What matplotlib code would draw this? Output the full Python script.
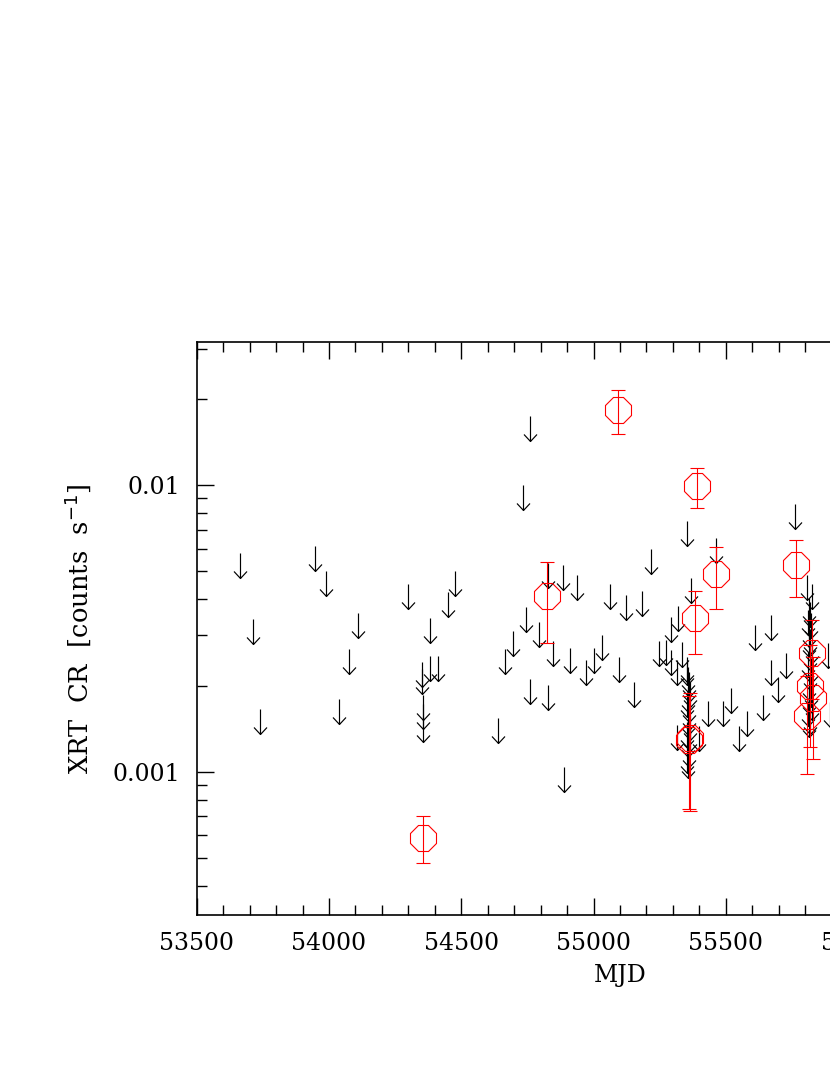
import numpy as np
import matplotlib
matplotlib.use("Agg")
import matplotlib.pyplot as plt
from matplotlib.path import Path
from matplotlib.ticker import FixedLocator, MultipleLocator, NullFormatter

# ---------------- data ----------------
# Swift/XRT upper limits (MJD, count rate)
ul_mjd = [53665, 53713, 53741, 53948, 53990, 54037, 54077, 54111, 54300,
          54352, 54352, 54354, 54354, 54354, 54381, 54382, 54413, 54451,
          54478, 54637, 54667, 54694, 54732, 54744, 54758, 54761, 54794,
          54829, 54828, 54848, 54883, 54889, 54911, 54938, 54973, 55001,
          55032, 55063, 55098, 55121, 55154, 55184, 55218, 55246, 55273,
          55292, 55291, 55318, 55335, 55315, 55355, 55369, 55462, 55434,
          55489, 55520, 55549, 55581, 55611, 55639, 55670, 55670, 55698,
          55729, 55761, 55808, 55825, 55887, 55895]
ul_val = [0.00578, 0.00341, 0.00166, 0.00614, 0.00501, 0.00179, 0.00269, 0.00359, 0.00453,
          0.00242, 0.00229, 0.00185, 0.00172, 0.00155, 0.00344, 0.00253, 0.00253, 0.00425,
          0.00503, 0.00154, 0.00269, 0.00310, 0.0100, 0.00375, 0.0174, 0.00211, 0.00333,
          0.00535, 0.00201, 0.00285, 0.00526, 0.00104, 0.00270, 0.00485, 0.00246, 0.00270,
          0.00300, 0.00451, 0.00252, 0.00413, 0.00206, 0.00429, 0.00598, 0.00287, 0.00288,
          0.00347, 0.00266, 0.00380, 0.00284, 0.00245, 0.00751, 0.00475, 0.00656, 0.00176,
          0.00176, 0.00196, 0.00145, 0.00163, 0.00326, 0.00186, 0.00353, 0.00245, 0.00215,
          0.00259, 0.00859, 0.00488, 0.00454, 0.00281, 0.00175]

# dense cluster around MJD 55360
ulA_mjd = [55352, 55355, 55358, 55360, 55362, 55365, 55357, 55354, 55361, 55359,
           55356, 55363, 55353, 55366, 55358, 55360, 55355, 55357, 55400, 55316]
ulA_val = [0.00252, 0.00245, 0.00232, 0.00223, 0.00214, 0.00206, 0.00198, 0.00190, 0.00183, 0.00171,
           0.00164, 0.00158, 0.00149, 0.00144, 0.00138, 0.00127, 0.00121, 0.00116, 0.00144, 0.00146]

# dense cluster around MJD 55818
ulB_mjd = [55815, 55818, 55812, 55822, 55816, 55820, 55813, 55825, 55817, 55811,
           55823, 55819, 55814, 55821, 55816, 55824, 55812, 55818, 55815]
ulB_val = [0.00403, 0.00392, 0.00366, 0.00357, 0.00334, 0.00316, 0.00308, 0.00292, 0.00277, 0.00262,
           0.00249, 0.00236, 0.00217, 0.00206, 0.00195, 0.00185, 0.00176, 0.00166, 0.00162]

# detections
det_mjd = [54354, 54823, 55092, 55390, 55462, 55765, 55384, 55359, 55365,
           55825, 55819, 55831, 55806]
det_val = [0.000589, 0.00411, 0.01827, 0.00992, 0.00489, 0.00526, 0.00343, 0.00129, 0.00131,
           0.00259, 0.00199, 0.00181, 0.00157]
det_err = [0.00011, 0.00129, 0.0032, 0.0016, 0.0012, 0.0012, 0.00085, 0.00055, 0.00058,
           0.00079, 0.00077, 0.0007, 0.00059]

x_major = [53500, 54000, 54500, 55000, 55500, 56000, 56500]
y_major = [0.001, 0.01]
y_major_labels = ["0.001", "0.01"]

# ---------------- plot ----------------
W, H = 830, 1075
fig = plt.figure(figsize=(W / 100, H / 100), dpi=100)
ax = fig.add_axes([196.7 / W, (H - 915) / H, (1043.3 - 196.7) / W, (915 - 342) / H])

ax.set_yscale("log")
ax.set_xlim(53500, 56700)
ax.set_ylim(10 ** -3.5, 10 ** -1.5)

# down-arrow marker: origin at the top (the limit value)
verts = [(0, 0), (0, -1), (-0.26, -0.72), (0, -1), (0.26, -0.72)]
codes = [Path.MOVETO, Path.LINETO, Path.MOVETO, Path.LINETO, Path.LINETO]
arrow = Path(verts, codes)

all_ul_x = ul_mjd + ulA_mjd + ulB_mjd
all_ul_y = ul_val + ulA_val + ulB_val
ax.plot(all_ul_x, all_ul_y, linestyle="none", marker=arrow, markersize=36,
        markerfacecolor="none", markeredgecolor="black", markeredgewidth=0.85)

ax.errorbar(det_mjd, det_val, yerr=det_err, fmt="8", markersize=19.5,
            markerfacecolor="none", markeredgecolor="red", markeredgewidth=0.8,
            ecolor="red", elinewidth=0.8, capsize=4.8, capthick=0.8)

font = "DejaVu Serif"
ax.xaxis.set_major_locator(FixedLocator(x_major))
ax.xaxis.set_minor_locator(MultipleLocator(100))
ax.set_xticklabels([str(v) for v in x_major])
ax.yaxis.set_major_locator(FixedLocator(y_major))
ax.set_yticklabels(y_major_labels)
ax.yaxis.set_minor_formatter(NullFormatter())

ax.tick_params(which="both", direction="in", top=True, right=True, width=1.0, color="black")
ax.tick_params(which="major", length=12.2, pad=12, labelsize=17)
ax.tick_params(which="minor", length=7.2)
for lab in ax.get_xticklabels() + ax.get_yticklabels():
    lab.set_fontfamily(font)
for s in ax.spines.values():
    s.set_linewidth(1.2)

ax.set_xlabel("MJD", fontsize=17, fontfamily=font, labelpad=7)
ax.set_ylabel(r"XRT  CR  [counts  s$^{-1}$]", fontsize=18.5, fontfamily=font, labelpad=14)

fig.savefig("out.png", dpi=100)
